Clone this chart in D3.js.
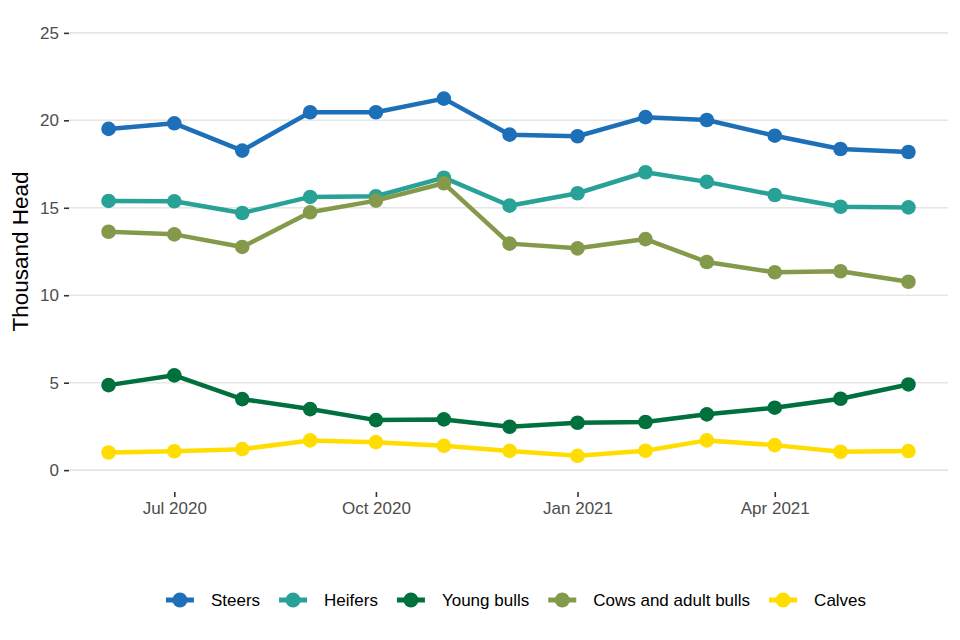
<!DOCTYPE html>
<html lang="en">
<head>
  <meta charset="UTF-8" />
  <title>Thousand Head by month</title>
  <script src="https://d3js.org/d3.v7.min.js"></script>
  <style>
    body { margin: 0; background: #fff; }
    svg { font-family: "Liberation Sans", Arial, sans-serif; }
    .grid line { stroke: #e6e6e6; stroke-width: 1.6; }
    .tick-label { fill: #4d4d4d; font-size: 17px; }
  </style>
</head>
<body>
  <svg id="chart" width="960" height="640"></svg>

  <script>
    // monthly values, thousand head
    const months = ["2020-06", "2020-07", "2020-08", "2020-09", "2020-10", "2020-11", "2020-12",
                    "2021-01", "2021-02", "2021-03", "2021-04", "2021-05", "2021-06"];
    const steers     = [19.51, 19.83, 18.27, 20.46, 20.46, 21.24, 19.18, 19.09, 20.18, 20.02, 19.12, 18.36, 18.19];
    const heifers    = [15.39, 15.37, 14.70, 15.62, 15.66, 16.72, 15.12, 15.83, 17.03, 16.48, 15.73, 15.06, 15.02];
    const youngBulls = [4.86, 5.42, 4.06, 3.49, 2.86, 2.90, 2.48, 2.71, 2.75, 3.19, 3.57, 4.08, 4.90];
    const cows       = [13.63, 13.48, 12.76, 14.74, 15.41, 16.40, 12.95, 12.68, 13.21, 11.90, 11.31, 11.37, 10.77];
    const calves     = [1.01, 1.08, 1.20, 1.70, 1.60, 1.39, 1.10, 0.82, 1.11, 1.70, 1.43, 1.05, 1.09];

    const seriesNames = ["Steers", "Heifers", "Young bulls", "Cows and adult bulls", "Calves"];
    const seriesValues = [steers, heifers, youngBulls, cows, calves];
    const colors = ["#1d70b8", "#28a197", "#00703c", "#85994b", "#ffdd00"];

    const xTicks = ["2020-07", "2020-10", "2021-01", "2021-04"];
    const yTicks = [0, 5, 10, 15, 20, 25];

    const parseMonth = d3.timeParse("%Y-%m");
    const dates = months.map(parseMonth);

    const series = seriesNames.map((name, i) => ({
      name,
      color: colors[i],
      values: seriesValues[i].map((v, j) => ({ date: dates[j], value: v }))
    }));

    const svg = d3.select("#chart");
    const panel = { left: 69, right: 948, top: 11, bottom: 492 };

    // ggplot-ish 5% expansion on both axes
    const xSpan = panel.right - panel.left;
    const x = d3.scaleTime()
      .domain(d3.extent(dates))
      .range([panel.left + xSpan * 0.045, panel.right - xSpan * 0.045]);

    const y = d3.scaleLinear()
      .domain([-1.25, 26.25])
      .range([panel.bottom, panel.top]);

    // horizontal grid
    svg.append("g")
      .attr("class", "grid")
      .selectAll("line")
      .data(yTicks)
      .join("line")
      .attr("x1", panel.left)
      .attr("x2", panel.right)
      .attr("y1", d => y(d))
      .attr("y2", d => y(d));

    // y axis
    const yAxis = svg.append("g")
      .attr("transform", `translate(${panel.left},0)`)
      .call(d3.axisLeft(y).tickValues(yTicks).tickSize(5).tickPadding(5));
    yAxis.select(".domain").remove();
    yAxis.selectAll(".tick line").attr("stroke", "#333").attr("stroke-width", 1.6);
    yAxis.selectAll(".tick text").attr("class", "tick-label").attr("font-family", null).attr("font-size", null);

    // x axis
    const xAxis = svg.append("g")
      .attr("transform", `translate(0,${panel.bottom})`)
      .call(d3.axisBottom(x)
        .tickValues(xTicks.map(parseMonth))
        .tickFormat(d3.timeFormat("%b %Y"))
        .tickSize(5).tickPadding(5));
    xAxis.select(".domain").remove();
    xAxis.selectAll(".tick line").attr("stroke", "#333").attr("stroke-width", 1.6);
    xAxis.selectAll(".tick text").attr("class", "tick-label").attr("font-family", null).attr("font-size", null);

    // y title
    svg.append("text")
      .attr("transform", `translate(28,${(panel.top + panel.bottom) / 2}) rotate(-90)`)
      .attr("text-anchor", "middle")
      .attr("font-size", 22.5)
      .attr("fill", "#000")
      .text("Thousand Head");

    const line = d3.line()
      .x(d => x(d.date))
      .y(d => y(d.value));

    svg.append("g")
      .selectAll("path")
      .data(series)
      .join("path")
      .attr("d", d => line(d.values))
      .attr("fill", "none")
      .attr("stroke", d => d.color)
      .attr("stroke-width", 4.5)
      .attr("stroke-linejoin", "round");

    svg.append("g")
      .selectAll("g")
      .data(series)
      .join("g")
      .attr("fill", d => d.color)
      .selectAll("circle")
      .data(d => d.values)
      .join("circle")
      .attr("cx", d => x(d.date))
      .attr("cy", d => y(d.value))
      .attr("r", 7.3);

    // legend, laid out from measured text widths then centred
    const legendY = 600;
    const keyW = 28, keyGap = 17, itemGap = 19;
    const legend = svg.append("g");
    const items = legend.selectAll("g")
      .data(series)
      .join("g");

    items.append("line")
      .attr("x1", 0).attr("x2", keyW)
      .attr("y1", 0).attr("y2", 0)
      .attr("stroke", d => d.color)
      .attr("stroke-width", 5);
    items.append("circle")
      .attr("cx", keyW / 2).attr("cy", 0).attr("r", 7.5)
      .attr("fill", d => d.color);
    items.append("text")
      .attr("x", keyW + keyGap)
      .attr("dy", "0.35em")
      .attr("font-size", 17)
      .attr("fill", "#000")
      .text(d => d.name);

    let offset = 0;
    items.each(function () {
      const w = keyW + keyGap + d3.select(this).select("text").node().getComputedTextLength();
      d3.select(this).attr("transform", `translate(${offset},${legendY})`);
      offset += w + itemGap;
    });
    const total = offset - itemGap;
    legend.attr("transform", `translate(${516 - total / 2},0)`);
  </script>
</body>
</html>
